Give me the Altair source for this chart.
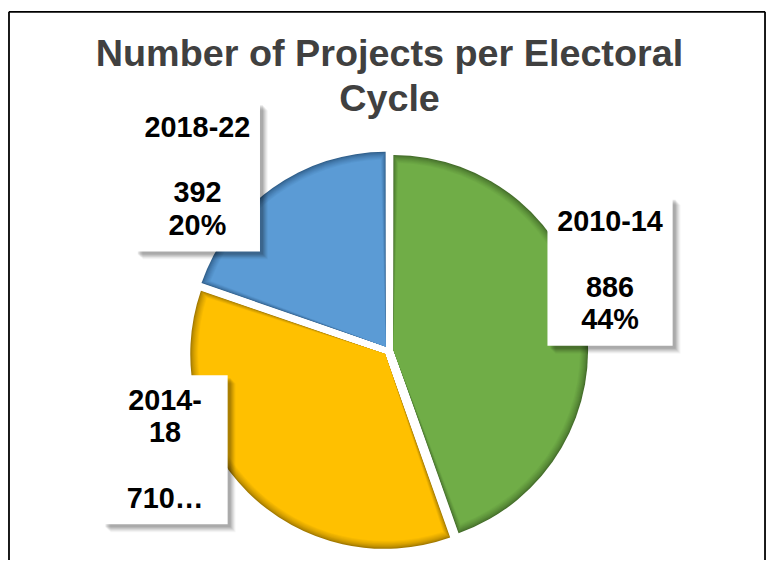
import altair as alt
import pandas as pd

# ---- data ----
categories = ["2010-14", "2014-18", "2018-22"]
projects = [886, 710, 392]
percent_labels = ["44%", "36%", "20%"]
label_top = ["2010-14", "2014-\n18", "2018-22"]
label_bottom = ["886\n44%", "710\u2026", "392\n20%"]
title_lines = ["Number of Projects per Electoral", "Cycle"]

# ---- styles / layout ----
base_colors = ["#70AD47", "#FFC000", "#5B9BD5"]
dark_colors = ["#456E2B", "#A37A00", "#31608C"]
CX, CY, R, D, RL = 383, 343, 196, 5, 240
nudge_x = [-13.5, -56, -53]
nudge_y = [-39, -70.6, 20.6]
BOX_W, BOX_H = 126, 150
LINE_H = 33
N_LINES = 4
W, H = 764, 552
FONT = "Liberation Sans"

df = pd.DataFrame({
    "cat": categories,
    "value": projects,
    "pct": percent_labels,
    "top": label_top,
    "bottom": label_bottom,
    "order": list(range(len(categories))),
    "nx": nudge_x,
    "ny": nudge_y,
})


def mix(c1, c2, t):
    a = [int(c1[i:i + 2], 16) for i in (1, 3, 5)]
    b = [int(c2[i:i + 2], 16) for i in (1, 3, 5)]
    return "#" + "".join(f"{round(x + (y - x) * t):02x}" for x, y in zip(a, b))


def base():
    return (
        alt.Chart(df)
        .transform_joinaggregate(total="sum(value)")
        .transform_window(cum="sum(value)", sort=[alt.SortField("order")], frame=[None, 0])
        .transform_calculate(
            t0="2*PI*(datum.cum - datum.value)/datum.total",
            t1="2*PI*datum.cum/datum.total",
        )
        .transform_calculate(mid="(datum.t0 + datum.t1)/2")
        .transform_calculate(
            cx=f"{CX} + {D}*sin(datum.mid)",
            cy=f"{CY} - {D}*cos(datum.mid)",
            lx=f"{CX} + {RL}*sin(datum.mid) + datum.nx",
            ly=f"{CY} - {RL}*cos(datum.mid) + datum.ny",
        )
        .transform_calculate(
            bx0=f"datum.lx - {BOX_W/2}",
            bx1=f"datum.lx + {BOX_W/2}",
            by0=f"datum.ly - {BOX_H/2}",
            by1=f"datum.ly + {BOX_H/2}",
            ty=f"datum.ly - {(N_LINES - 1) * LINE_H / 2}",
            ty2=(f"datum.ly + {(N_LINES - 1) * LINE_H / 2}"
                 f" - (length(split(datum.bottom, '\\n')) - 1) * {LINE_H}"),
        )
    )


layers = []

# frame
frame_df = pd.DataFrame({"k": [0]})
layers.append(alt.Chart(frame_df).mark_rule(color="black", strokeWidth=1.8).encode(
    x=alt.value(1), y=alt.value(2), y2=alt.value(H + 20)))
layers.append(alt.Chart(frame_df).mark_rule(color="black", strokeWidth=1.8).encode(
    x=alt.value(1), x2=alt.value(762), y=alt.value(2)))
layers.append(alt.Chart(frame_df).mark_rule(color="black", strokeWidth=1.8).encode(
    x=alt.value(762), y=alt.value(2), y2=alt.value(H + 20)))

# pie slices with an inner-shadow look
N = 9
for k in range(N):
    t = (k / (N - 1)) ** 0.7
    cols = [mix(d, b, t) for d, b in zip(dark_colors, base_colors)]
    layers.append(
        base().mark_arc(outerRadius=R - k * 1.0, padAngle=k * 0.0065).encode(
            theta=alt.Theta("t0:Q", scale=None),
            theta2="t1:Q",
            x=alt.X("cx:Q", scale=None, axis=None),
            y=alt.Y("cy:Q", scale=None, axis=None),
            color=alt.Color("cat:N", scale=alt.Scale(domain=categories, range=cols), legend=None),
        )
    )

# label box shadows (soft, toward lower right)
for off, op in [(8, 0.035), (7, 0.05), (6, 0.06), (5, 0.07), (4, 0.08), (3, 0.09)]:
    layers.append(
        base().mark_rect(color="#000000", opacity=op).transform_calculate(
            sx0=f"datum.bx0 + {off}", sx1=f"datum.bx1 + {off}",
            sy0=f"datum.by0 + {off}", sy1=f"datum.by1 + {off}",
        ).encode(
            x=alt.X("sx0:Q", scale=None, axis=None), x2="sx1:Q",
            y=alt.Y("sy0:Q", scale=None, axis=None), y2="sy1:Q",
        )
    )

# label boxes
layers.append(
    base().mark_rect(color="white").encode(
        x=alt.X("bx0:Q", scale=None, axis=None), x2="bx1:Q",
        y=alt.Y("by0:Q", scale=None, axis=None), y2="by1:Q",
    )
)

# label text: category name on top, value / percent at the bottom
for field, yfield in [("top", "ty"), ("bottom", "ty2")]:
    layers.append(
        base().mark_text(font=FONT, fontWeight="bold", fontSize=29, lineHeight=LINE_H,
                         align="center", baseline="middle", color="black", lineBreak="\n").encode(
            x=alt.X("lx:Q", scale=None, axis=None),
            y=alt.Y(f"{yfield}:Q", scale=None, axis=None),
            text=f"{field}:N",
        )
    )

# title
title_df = pd.DataFrame({"title": ["\n".join(title_lines)]})
layers.append(
    alt.Chart(title_df).mark_text(font=FONT, fontWeight="bold", fontSize=38, lineHeight=45,
                                  align="center", baseline="alphabetic", color="#404040",
                                  lineBreak="\n").encode(
        x=alt.value(384), y=alt.value(57), text="title:N")
)

chart = (
    alt.layer(*layers)
    .resolve_scale(color="independent")
    .properties(width=W, height=H, autosize=alt.AutoSizeParams(type="none"), padding=0)
    .configure_view(stroke=None)
)

chart.save("out.html", embed_options={"renderer": "svg", "actions": False})
